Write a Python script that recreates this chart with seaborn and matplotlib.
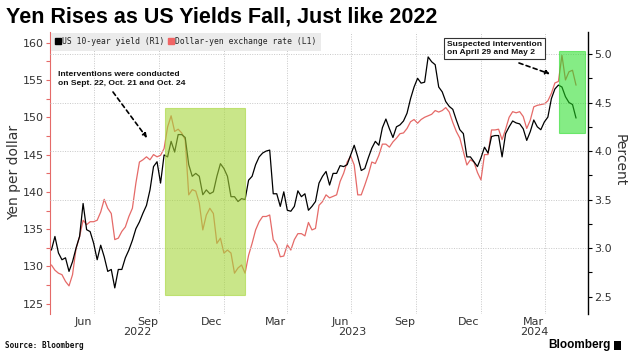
import numpy as np
import pandas as pd
import matplotlib
matplotlib.use("Agg")
import matplotlib.pyplot as plt
import matplotlib.dates as mdates
from matplotlib.patches import Rectangle
from matplotlib.lines import Line2D
from matplotlib.ticker import MultipleLocator, FixedLocator
import seaborn as sns

# ---------------- data ----------------
dates = pd.date_range("2022-05-01", periods=150, freq="5D")

us_10y_yield = [
    2.98, 3.12, 2.95, 2.88, 2.90, 2.76, 2.86, 3.00, 3.12, 3.46,
    3.19, 3.17, 3.05, 2.88, 3.03, 2.91, 2.76, 2.78, 2.59, 2.78,
    2.78, 2.90, 2.98, 3.08, 3.20, 3.27, 3.36, 3.44, 3.60, 3.84,
    3.89,
    3.67, 3.96, 3.94, 4.10, 3.99, 4.17, 4.17, 4.14, 3.86, 3.74,
    3.77, 3.74, 3.55, 3.60, 3.56, 3.58, 3.74, 3.87, 3.82, 3.74,
    3.53, 3.53, 3.48, 3.51, 3.50, 3.70, 3.74, 3.86, 3.94, 3.98,
    4.00,
    4.01, 3.56, 3.56, 3.43, 3.58, 3.39, 3.38, 3.43, 3.59, 3.53,
    3.56, 3.39, 3.43, 3.48, 3.67, 3.74, 3.79, 3.65, 3.77, 3.77,
    3.85, 3.84, 3.86, 3.96, 4.06, 3.94, 3.80, 3.82, 3.93, 4.03,
    4.10,
    4.06, 4.24, 4.33, 4.23, 4.14, 4.25, 4.27, 4.31, 4.39, 4.54,
    4.66, 4.75, 4.70, 4.71, 4.97, 4.92, 4.89, 4.66, 4.61, 4.51,
    4.46, 4.43, 4.32, 4.22, 4.18, 3.94, 3.94, 3.89, 3.84, 3.93,
    4.04, 3.98, 4.15, 4.16, 4.16, 3.94, 4.18, 4.25, 4.31, 4.29,
    4.28, 4.23, 4.11, 4.20, 4.32, 4.25, 4.22, 4.30, 4.35, 4.54,
    4.64, 4.68, 4.66, 4.56, 4.50, 4.48, 4.34,
]

usd_jpy = [
    130.2, 129.5, 129.1, 128.9, 128.0, 127.4, 128.9, 132.4, 134.0, 136.2,
    135.6, 136.0, 136.0, 136.2, 137.3, 139.0, 137.8, 137.1, 133.6, 133.8,
    134.7, 135.3, 136.7, 137.8, 141.2, 144.0, 144.3, 144.7, 144.3, 145.0,
    144.7,
    144.9, 145.8, 148.7, 150.2, 148.1, 148.4, 147.9, 147.0, 139.6, 140.3,
    140.1, 138.5, 134.9, 136.9, 137.8, 137.1, 133.1, 133.8, 131.8, 132.2,
    131.8, 129.1, 129.8, 130.2, 129.1, 131.5, 133.1, 134.9, 136.0, 136.7,
    136.7,
    136.9, 133.6, 132.9, 131.3, 131.4, 132.9, 132.2, 133.6, 134.4, 134.4,
    134.1, 135.9, 134.9, 135.1, 138.2, 138.7, 139.6, 139.2, 139.4, 139.6,
    141.4, 142.5, 144.0, 144.8, 143.6, 139.6, 139.6, 140.9, 142.3, 144.0,
    143.8,
    144.9, 146.4, 146.4, 146.0, 146.7, 147.2, 147.8, 147.9, 148.5, 149.4,
    149.7, 149.2, 149.7, 150.0, 150.2, 150.4, 150.9, 150.7, 150.9, 151.3,
    150.7, 149.3, 148.1, 147.2, 145.4, 143.6, 144.3, 144.0, 142.6, 141.6,
    145.0, 145.0, 148.3, 148.3, 148.4, 147.0, 148.4, 150.0, 150.75, 150.6,
    150.75, 150.1, 148.5, 149.6, 151.4, 151.6, 151.7, 151.8, 152.2, 153.2,
    154.6, 154.8, 158.3, 155.0, 156.1, 156.3, 154.3,
]

tick_dates = ["2022-06-15", "2022-09-15", "2022-12-15", "2023-03-15",
              "2023-06-15", "2023-09-15", "2023-12-15", "2024-03-15"]
tick_labels = ["Jun", "Sep", "Dec", "Mar", "Jun", "Sep", "Dec", "Mar"]
grid_dates = ["2022-07-01", "2022-10-01", "2023-01-01", "2023-04-01",
              "2023-07-01", "2023-10-01", "2024-01-01", "2024-04-01"]
years = [2022, 2023, 2024]
grid_levels = [3.0, 3.5, 4.0, 4.5, 5.0]

box1_dates = ["2022-10-09", "2023-01-31"]
box1_yen = [126.2, 151.2]
box2_dates = ["2024-04-21", "2024-05-28"]
box2_yen = [147.9, 158.9]

title = "Yen Rises as US Yields Fall, Just like 2022"
legend_labels = ["US 10-year yield (R1)", "Dollar-yen exchange rate (L1)"]
note1 = "Interventions were conducted\non Sept. 22, Oct. 21 and Oct. 24"
note2 = "Suspected intervention\non April 29 and May 2"

# ---------------- style ----------------
sns.set_theme(style="white")
plt.rcParams["font.family"] = ["DejaVu Sans"]
plt.rcParams["axes.grid"] = False
plt.rcParams["grid.alpha"] = 0.0
plt.rcParams["grid.linewidth"] = 0.0

RED = "#e56a68"
TXT = "#333333"
W, H = 634, 354

def fx(px):
    return px / W

def fy(py):
    return 1 - py / H

fig = plt.figure(figsize=(W / 100, H / 100), dpi=100)
ax = fig.add_axes([fx(50), fy(314), (588 - 50) / W, (314 - 32) / H])
ax2 = ax.twinx()

df = pd.DataFrame({"date": dates, "yield": us_10y_yield, "yen": usd_jpy})

sns.lineplot(data=df, x="date", y="yen", ax=ax, color=RED, linewidth=0.9)
sns.lineplot(data=df, x="date", y="yield", ax=ax2, color="black", linewidth=0.9)

xmin, xmax = pd.Timestamp("2022-04-29"), pd.Timestamp("2024-06-01")
ax.set_xlim(xmin, xmax)
ax.set_ylim(123.63, 161.43)
ax2.set_ylim(2.321, 5.227)

# guide lines
for d in grid_dates:
    ax.axvline(pd.Timestamp(d), color="#c8c8c8", lw=0.7, ls=(0, (1, 1.5)), zorder=0)
for g in grid_levels:
    ax2.axhline(g, color="#c8c8c8", lw=0.7, ls=(0, (1, 1.5)), zorder=0)

# highlight boxes (drawn over the lines)
for bd, bv, col, a in [(box1_dates, box1_yen, "#a6d63a", 0.6),
                       (box2_dates, box2_yen, "#22dd22", 0.55)]:
    x0 = mdates.date2num(pd.Timestamp(bd[0]))
    x1 = mdates.date2num(pd.Timestamp(bd[1]))
    r = Rectangle((x0, bv[0]), x1 - x0, bv[1] - bv[0], transform=ax.transData,
                  facecolor=col, alpha=a, edgecolor=col, lw=0.8, zorder=5)
    ax2.add_patch(r)

# axes / spines
for a_ in (ax, ax2):
    a_.set_xlabel("")
    a_.set_ylabel("")
    a_.spines["top"].set_visible(False)
    a_.spines["bottom"].set_visible(False)
ax2.spines["left"].set_visible(False)
ax.spines["right"].set_visible(False)
ax.spines["left"].set_color(RED)
ax.spines["left"].set_linewidth(0.8)
ax2.spines["right"].set_color("black")
ax2.spines["right"].set_linewidth(1.0)

ax.yaxis.set_major_locator(MultipleLocator(5))
ax.yaxis.set_minor_locator(MultipleLocator(2.5))
ax.tick_params(axis="y", which="both", left=True, length=3, width=0.8, color=RED,
               labelsize=8, labelcolor=TXT, pad=1.5)
ax2.yaxis.set_major_locator(MultipleLocator(0.5))
ax2.yaxis.set_minor_locator(MultipleLocator(0.25))
ax2.yaxis.set_major_formatter(plt.FormatStrFormatter("%.1f"))
ax2.tick_params(axis="y", which="both", right=True, length=3, width=0.8, color="black",
                labelsize=8, labelcolor=TXT, pad=1.5)

ax.xaxis.set_major_locator(FixedLocator(mdates.date2num(pd.to_datetime(tick_dates))))
ax.set_xticklabels(tick_labels)
ax.tick_params(axis="x", length=0, labelsize=8, labelcolor=TXT, pad=2)
ax2.tick_params(axis="x", length=0)

for y in years:
    s = max(pd.Timestamp(f"{y}-01-01"), xmin)
    e = min(pd.Timestamp(f"{y + 1}-01-01"), xmax)
    c = s + (e - s) / 2
    ax.text(c, -(332 - 314) / (314 - 32), str(y), transform=ax.get_xaxis_transform(),
            ha="center", va="center", fontsize=8, color=TXT)

# no automatic grid lines
for a_ in (ax, ax2):
    a_.grid(False, which="both", axis="both")
    a_.tick_params(which="both", grid_alpha=0, grid_linewidth=0)

# legend
handles = [Line2D([], [], marker="s", ls="none", color="black", markersize=4.8),
           Line2D([], [], marker="s", ls="none", color="#f06565", markersize=4.8)]
leg = ax2.legend(handles, legend_labels, loc="upper left", bbox_to_anchor=(0, 1.0),
                 ncol=2, frameon=True, facecolor="#ebebeb", edgecolor="none",
                 fancybox=False, framealpha=1, prop={"family": "DejaVu Sans Mono", "size": 5.8},
                 handlelength=0.7, handletextpad=0.1, columnspacing=0.55,
                 borderpad=0.55, borderaxespad=0.1)
leg.set_zorder(10)
for t in leg.get_texts():
    t.set_color("#222222")

# annotations
fig.text(fx(58), fy(79), note1, family="Liberation Sans", fontweight="bold", fontsize=6.1,
         ha="left", va="center", linespacing=1.3, color="#111111")
ax2.annotate("", xy=(fx(147), fy(138)), xytext=(fx(113), fy(92)),
             xycoords="figure fraction", textcoords="figure fraction",
             arrowprops=dict(arrowstyle="-|>", ls=(0, (2.5, 2)), lw=1.2, color="black",
                             mutation_scale=6, shrinkA=0, shrinkB=0))
fig.text(fx(447), fy(48.5), note2, family="Liberation Sans", fontweight="bold", fontsize=6.1,
         ha="left", va="center", linespacing=1.3, color="#111111",
         bbox=dict(boxstyle="square,pad=0.35", fc="white", ec="#333333", lw=0.8))
ax2.annotate("", xy=(fx(550), fy(74)), xytext=(fx(519), fy(63)),
             xycoords="figure fraction", textcoords="figure fraction",
             arrowprops=dict(arrowstyle="-|>", ls=(0, (2.5, 2)), lw=1.2, color="black",
                             mutation_scale=6, shrinkA=0, shrinkB=0))

# titles / labels
fig.text(fx(6), fy(17), title, family="Liberation Sans", fontweight="bold", fontsize=15.5,
         ha="left", va="center", color="black")
fig.text(fx(14), fy(172), "Yen per dollar", rotation=90, fontsize=10, ha="center",
         va="center", color=TXT)
fig.text(fx(620), fy(160), "Percent", rotation=-90, fontsize=10, ha="center",
         va="center", color=TXT)
fig.text(fx(5), fy(346), "Source: Bloomberg", family="DejaVu Sans Mono", fontweight="bold",
         fontsize=5.5, ha="left", va="center", color="#111111")
fig.text(fx(611), fy(345), "Bloomberg", family="Liberation Sans", fontweight="bold",
         fontsize=8.5, ha="right", va="center", color="black")
fig.patches.append(Rectangle((fx(614), fy(350)), 7 / W, 9 / H, transform=fig.transFigure,
                             facecolor="black", edgecolor="none"))

fig.savefig("out.png", dpi=100)
